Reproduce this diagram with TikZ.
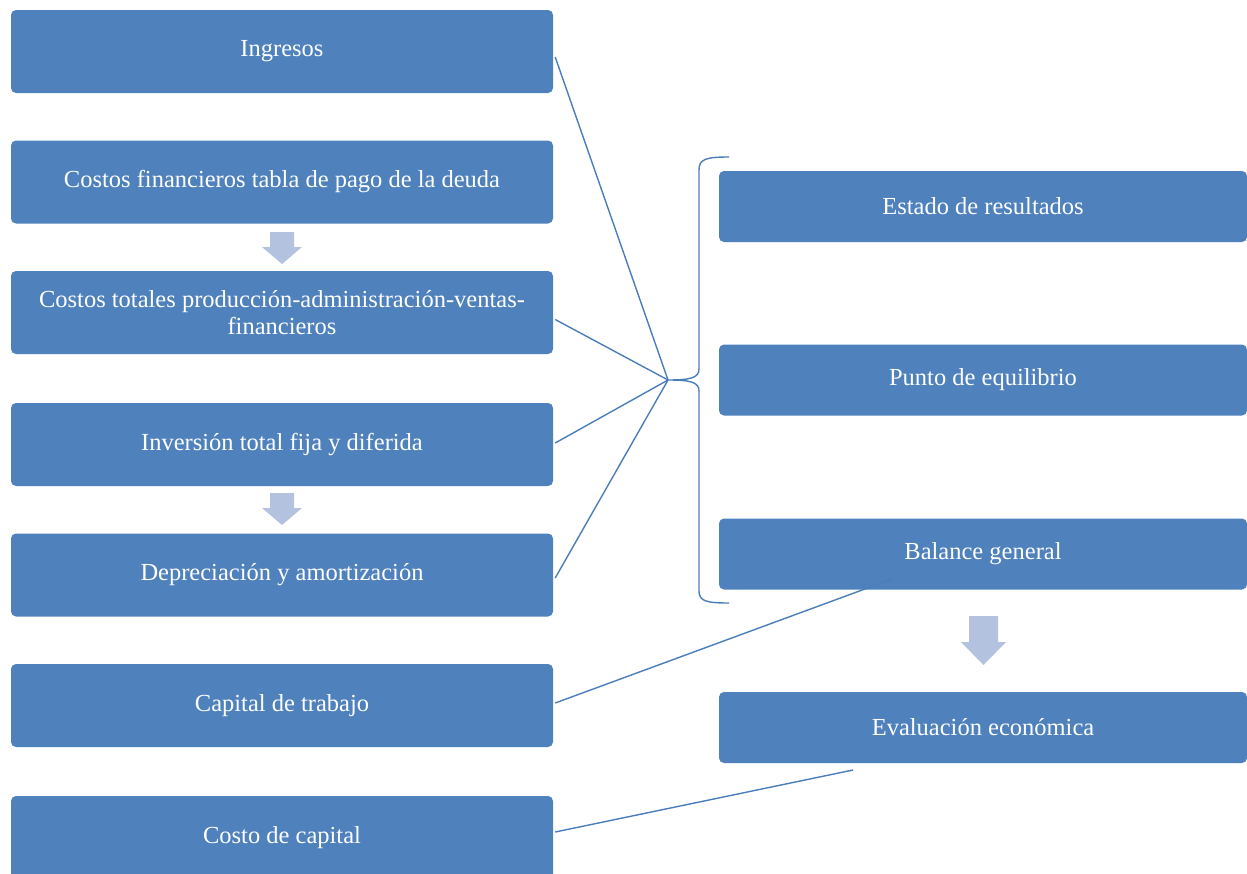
\documentclass[tikz,border=0pt]{standalone}
\usepackage{fontspec}
\setmainfont{Liberation Serif}
\definecolor{boxblue}{HTML}{4F81BD}
\definecolor{linkblue}{HTML}{4A7EBB}
\definecolor{arrowfill}{HTML}{B3C2DE}
\tikzset{
  card/.style={fill=boxblue, rounded corners=5pt, text=white,
    font=\fontsize{24.5}{27}\selectfont, align=center, inner sep=0pt,
    minimum height=83pt, minimum width=542pt},
  rcard/.style={card, minimum width=528pt, minimum height=71pt},
  link/.style={draw=linkblue, line width=1.4pt},
  blockarrow/.style={fill=arrowfill}
}
\begin{document}
\begin{tikzpicture}[x=1pt, y=-1pt]
  \useasboundingbox (0,0) rectangle (1247,873);
  \clip (0,0) rectangle (1247,873);

  % left column
  \node[card] (ing)  at (282,51.5)  {Ingresos};
  \node[card] (cfin) at (282,182)   {Costos financieros tabla de pago de la deuda};
  \node[card] (ctot) at (282,312.5) {Costos totales producción-administración-ventas-\\financieros};
  \node[card] (inv)  at (282,444.5) {Inversión total fija y diferida};
  \node[card] (dep)  at (282,575)   {Depreciación y amortización};
  \node[card] (capt) at (282,705.5) {Capital de trabajo};
  \node[card] (ccap) at (282,837.5) {Costo de capital};

  % right column
  \node[rcard] (est)  at (983,206.5) {Estado de resultados};
  \node[rcard] (pto)  at (983,380)   {Punto de equilibrio};
  \node[rcard] (bal)  at (983,554)   {Balance general};
  \node[rcard] (eval) at (983,727.5) {Evaluación económica};

  % down arrows
  \path[blockarrow] (270,232) -- (294,232) -- (294,247) -- (302,247) -- (282,264)
    -- (262,247) -- (270,247) -- cycle;
  \path[blockarrow] (270,493) -- (294,493) -- (294,508) -- (302,508) -- (282,525)
    -- (262,508) -- (270,508) -- cycle;
  \path[blockarrow] (969,616) -- (998,616) -- (998,642) -- (1006,642) -- (983.5,665)
    -- (961,642) -- (969,642) -- cycle;

  % brace grouping the three statements
  \coordinate (hub) at (668,380);
  \draw[link] (729,157) .. controls (706,157) and (699,159) .. (699,170)
    -- (699,369) .. controls (699,378) and (690,380) .. (hub)
    .. controls (690,380) and (699,382) .. (699,391)
    -- (699,591) .. controls (699,601) and (706,603) .. (729,603);

  % connectors
  \draw[link] ([xshift=2pt,yshift=-5.5pt]ing.east) -- (hub);
  \draw[link] ([xshift=2pt,yshift=-7pt]ctot.east) -- (hub);
  \draw[link] ([xshift=2pt,yshift=1.5pt]inv.east) -- (hub);
  \draw[link] ([xshift=2pt,yshift=-3pt]dep.east) -- (hub);
  \coordinate (balend) at (892,579);
  \draw[link] ([xshift=2pt,yshift=2.5pt]capt.east) -- (balend);
  \coordinate (evalend) at (853,770);
  \draw[link] ([xshift=2pt,yshift=5.5pt]ccap.east) -- (evalend);
\end{tikzpicture}
\end{document}
